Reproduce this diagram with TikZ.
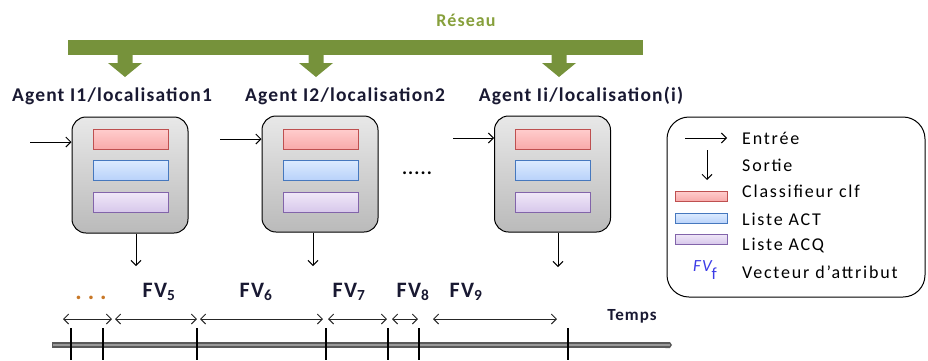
\documentclass[tikz,border=0pt]{standalone}
\usepackage{fontspec}
\setmainfont{Carlito}[LetterSpace=6]
\newfontfamily\legfont{Carlito}[LetterSpace=10]
\newfontfamily\dotfont{Carlito}[LetterSpace=25]
\usetikzlibrary{arrows.meta}
\definecolor{netgreen}{RGB}{118,146,59}
\definecolor{nettext}{RGB}{135,160,60}
\definecolor{labcol}{RGB}{25,25,50}
\definecolor{redfillA}{RGB}{255,205,205}
\definecolor{redfillB}{RGB}{248,170,170}
\definecolor{redline}{RGB}{190,80,80}
\definecolor{bluefillA}{RGB}{220,235,255}
\definecolor{bluefillB}{RGB}{185,210,250}
\definecolor{blueline}{RGB}{70,120,190}
\definecolor{purfillA}{RGB}{240,232,248}
\definecolor{purfillB}{RGB}{215,200,235}
\definecolor{purline}{RGB}{130,100,170}
\definecolor{dotcol}{RGB}{200,120,40}
\definecolor{fvblue}{RGB}{60,60,230}
\begin{document}
\begin{tikzpicture}[x=1pt,y=-1pt,
  agentbox/.style={draw=black,line width=1pt,rounded corners=14pt,top color=black!9,bottom color=black!27,minimum width=116pt,minimum height=116pt,inner sep=0pt},
  redbar/.style={draw=redline,line width=1pt,top color=redfillA,bottom color=redfillB,inner sep=0pt},
  bluebar/.style={draw=blueline,line width=1pt,top color=bluefillA,bottom color=bluefillB,inner sep=0pt},
  purbar/.style={draw=purline,line width=1pt,top color=purfillA,bottom color=purfillB,inner sep=0pt},
  inbar/.style={minimum width=75pt,minimum height=20pt},
  legbar/.style={minimum width=52pt,minimum height=10pt},
  arr/.style={-{Straight Barb[length=5pt,width=10pt]},line width=1pt},
  dbl/.style={{Straight Barb[length=5pt,width=10pt]}-{Straight Barb[length=5pt,width=10pt]},line width=0.9pt,black!85},
  agentlab/.style={font=\fontsize{19.5}{22}\selectfont\bfseries,text=labcol,inner sep=0pt},
  fvlab/.style={font=\fontsize{22}{25}\selectfont\bfseries,text=labcol,inner sep=0pt},
  legtext/.style={font=\legfont\fontsize{18}{21}\selectfont,anchor=west,inner sep=0pt},
  tick/.style={line width=2pt,black}
]
\useasboundingbox (0,0) rectangle (928,360);

% network
\node[font=\fontsize{18}{21}\selectfont\bfseries,text=nettext,inner sep=0pt] (res) at (466,20) {Réseau};
\node[fill=netgreen,minimum width=575pt,minimum height=15pt,inner sep=0pt] (net) at (355.5,47.5) {};
\foreach \x in {125,316,559}{
  \fill[netgreen] (\x-7.5,55) -- (\x-7.5,63) -- (\x-17,63) -- (\x,77) -- (\x+17,63) -- (\x+7.5,63) -- (\x+7.5,55) -- cycle;
}

% agent labels
\node[agentlab] (L1) at (112,96) {Agent I1/localisation1};
\node[agentlab] (L2) at (345,96) {Agent I2/localisation2};
\node[agentlab] (L3) at (581,96) {Agent Ii/localisation(i)};

% agents
\node[agentbox] (A1) at (130,175) {};
\node[agentbox] (A2) at (320,174) {};
\node[agentbox] (A3) at (552.5,174) {};
\foreach \n/\x in {A1/130.5,A2/320.5,A3/553}{
  \node[redbar,inbar] (\n r) at (\x,139) {};
  \node[bluebar,inbar] (\n b) at (\x,170) {};
  \node[purbar,inbar] (\n p) at (\x,202) {};
}
\node[font=\fontsize{19}{22}\selectfont\bfseries,inner sep=0pt] (dots) at (417,173) {.....};

% inputs
\coordinate (i1) at (30,142);
\coordinate (i2) at (220,139);
\coordinate (i3) at (453,138);
\draw[arr] (i1) -- (i1 -| A1.west);
\draw[arr] (i2) -- (i2 -| A2.west);
\draw[arr] (i3) -- (i3 -| A3.west);
% outputs
\coordinate (o1) at (136,266);
\coordinate (o2) at (313,266);
\coordinate (o3) at (558,267);
\draw[arr] (o1 |- A1.south) -- (o1);
\draw[arr] (o2 |- A2.south) -- (o2);
\draw[arr] (o3 |- A3.south) -- (o3);

% legend
\node[draw=black,line width=1pt,rounded corners=22pt,minimum width=258pt,minimum height=180pt,inner sep=0pt] (leg) at (796,207) {};
\coordinate (le1) at (685,138); \coordinate (le2) at (727,138);
\draw[arr] (le1) -- (le2);
\coordinate (ls1) at (707,150); \coordinate (ls2) at (707,180);
\draw[arr] (ls1) -- (ls2);
\node[redbar,legbar] (lr) at (701,196) {};
\node[bluebar,legbar] (lb) at (701,218.5) {};
\node[purbar,legbar] (lp) at (701,239) {};
\node[font=\fontsize{17}{20}\selectfont\itshape,text=fvblue,inner sep=0pt,anchor=west] (lfv) at (693,270) {FV\raisebox{-8pt}{\upshape f}};
\node[legtext] (t1) at (742,138) {Entrée};
\node[legtext] (t2) at (742,165) {Sortie};
\node[legtext] (t3) at (742,191) {Classifieur clf};
\node[legtext] (t4) at (742,219) {Liste ACT};
\node[legtext] (t5) at (742,245) {Liste ACQ};
\node[legtext] (t6) at (742,272) {Vecteur d’attribut};

% timeline
\coordinate (ta) at (52,345);
\coordinate (tb) at (672,345);
\draw[line width=6pt,black!65,-{Triangle Cap[cap angle=110]}] (ta) -- (tb);
\draw[line width=2.5pt,black!40] (53,345) -- (670,345);
\foreach \x in {71,103,197,326,388,419,568}{
  \draw[tick] (\x,328) -- (\x,360);
}
\node[font=\fontsize{17}{20}\selectfont\bfseries,text=labcol,inner sep=0pt] (temps) at (632,316) {Temps};

% intervals
\foreach \a/\b in {63/112,115/197,200/323,328/387,392/418,433/557}{
  \coordinate (p\a) at (\a,319);
  \coordinate (q\a) at (\b,319);
  \draw[dbl] (p\a) -- (q\a);
}
\node[font=\dotfont\fontsize{24}{26}\selectfont\bfseries,text=dotcol,inner sep=0pt] (etc) at (91,298) {...};
\node[fvlab] (fv5) at (159,292) {FV\textsubscript{5}};
\node[fvlab] (fv6) at (256,292) {FV\textsubscript{6}};
\node[fvlab] (fv7) at (349,292) {FV\textsubscript{7}};
\node[fvlab] (fv8) at (413,292) {FV\textsubscript{8}};
\node[fvlab] (fv9) at (466,292) {FV\textsubscript{9}};
\end{tikzpicture}
\end{document}
